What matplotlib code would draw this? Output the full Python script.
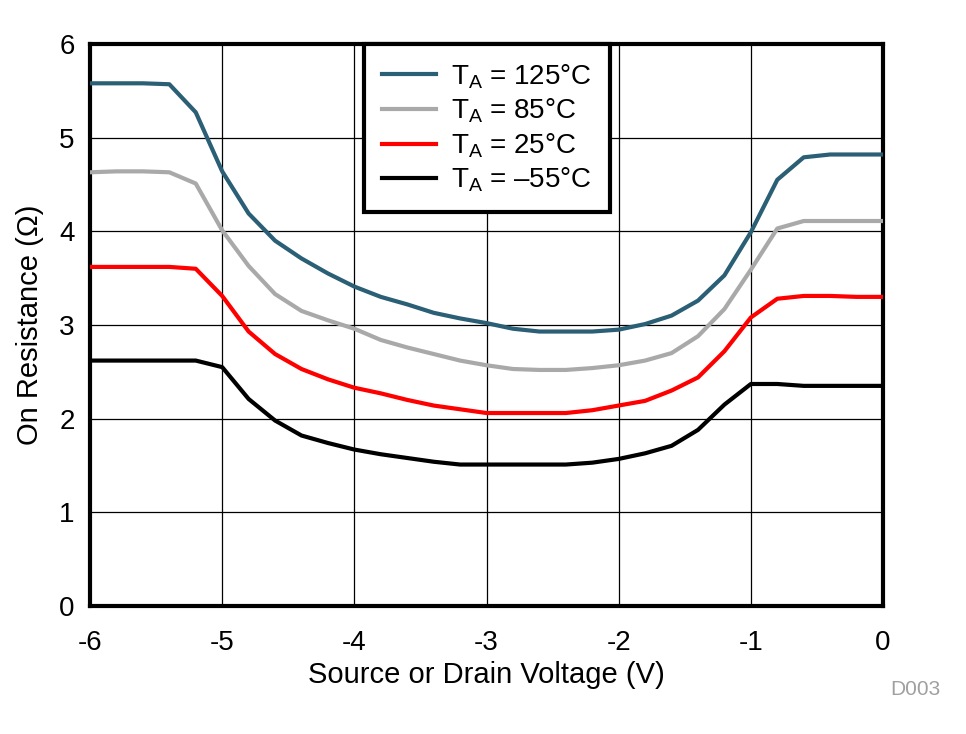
import numpy as np
import matplotlib
matplotlib.use('Agg')
import matplotlib.pyplot as plt

plt.rcParams['font.family'] = ['Liberation Sans', 'DejaVu Sans']
plt.rcParams['axes.unicode_minus'] = False
plt.rcParams['mathtext.fontset'] = 'custom'
plt.rcParams['mathtext.rm'] = 'Liberation Sans'
plt.rcParams['mathtext.it'] = 'Liberation Sans:italic'

# Source/drain voltage (V), 0.2 V steps
voltage = [-6.0, -5.8, -5.6, -5.4, -5.2, -5.0, -4.8, -4.6, -4.4, -4.2, -4.0,
           -3.8, -3.6, -3.4, -3.2, -3.0, -2.8, -2.6, -2.4, -2.2, -2.0,
           -1.8, -1.6, -1.4, -1.2, -1.0, -0.8, -0.6, -0.4, -0.2, 0.0]

# On resistance (ohm) per temperature
r_125 = [5.58, 5.58, 5.58, 5.57, 5.27, 4.64, 4.19, 3.90, 3.71, 3.55, 3.41,
         3.30, 3.22, 3.13, 3.07, 3.02, 2.96, 2.93, 2.93, 2.93, 2.95,
         3.01, 3.10, 3.26, 3.53, 3.99, 4.55, 4.79, 4.82, 4.82, 4.82]
r_85 = [4.63, 4.64, 4.64, 4.63, 4.51, 4.01, 3.63, 3.33, 3.15, 3.05, 2.96,
        2.84, 2.76, 2.69, 2.62, 2.57, 2.53, 2.52, 2.52, 2.54, 2.57,
        2.62, 2.70, 2.88, 3.17, 3.59, 4.03, 4.11, 4.11, 4.11, 4.11]
r_25 = [3.62, 3.62, 3.62, 3.62, 3.60, 3.31, 2.93, 2.69, 2.53, 2.42, 2.33,
        2.27, 2.20, 2.14, 2.10, 2.06, 2.06, 2.06, 2.06, 2.09, 2.14,
        2.19, 2.30, 2.44, 2.72, 3.08, 3.28, 3.31, 3.31, 3.30, 3.30]
r_m55 = [2.62, 2.62, 2.62, 2.62, 2.62, 2.55, 2.21, 1.98, 1.82, 1.74, 1.67,
         1.62, 1.58, 1.54, 1.51, 1.51, 1.51, 1.51, 1.51, 1.53, 1.57,
         1.63, 1.71, 1.88, 2.15, 2.37, 2.37, 2.35, 2.35, 2.35, 2.35]

labels = ['T$_\\mathregular{A}$ = 125°C', 'T$_\\mathregular{A}$ = 85°C',
          'T$_\\mathregular{A}$ = 25°C', 'T$_\\mathregular{A}$ = \u201355°C']
colors = ['#2B5F75', '#A9A9A9', '#FF0000', '#000000']

fig = plt.figure(figsize=(9.66, 7.34), dpi=100)
ax = fig.add_axes([0.0932, 0.1744, 0.8209, 0.7657])

for r, lab, c in zip([r_125, r_85, r_25, r_m55], labels, colors):
    ax.plot(voltage, r, color=c, lw=3, label=lab, zorder=3)

ax.set_xlim(-6, 0)
ax.set_ylim(0, 6)
ax.set_xticks(np.arange(-6, 1, 1))
ax.set_yticks(np.arange(0, 7, 1))
ax.grid(True, color='black', lw=0.9)
ax.tick_params(length=0, labelsize=20)
ax.tick_params(axis='x', pad=17)
ax.tick_params(axis='y', pad=11)
for s in ax.spines.values():
    s.set_linewidth(3)

ax.set_xlabel('Source or Drain Voltage (V)', fontsize=21, labelpad=4)
ax.set_ylabel('On Resistance (\u03a9)', fontsize=21, labelpad=11)

leg = ax.legend(loc='upper left', bbox_to_anchor=(0.345, 1.0), fontsize=20,
                frameon=True, fancybox=False, handlelength=1.95,
                handletextpad=0.55, labelspacing=0.22, borderpad=0.65,
                borderaxespad=0)
leg.get_frame().set_edgecolor('black')
leg.get_frame().set_linewidth(3)
leg.get_frame().set_alpha(1)

fig.text(0.974, 0.053, 'D003', color='#A0A0A0', fontsize=15, ha='right')

fig.savefig('out.png', dpi=100)
